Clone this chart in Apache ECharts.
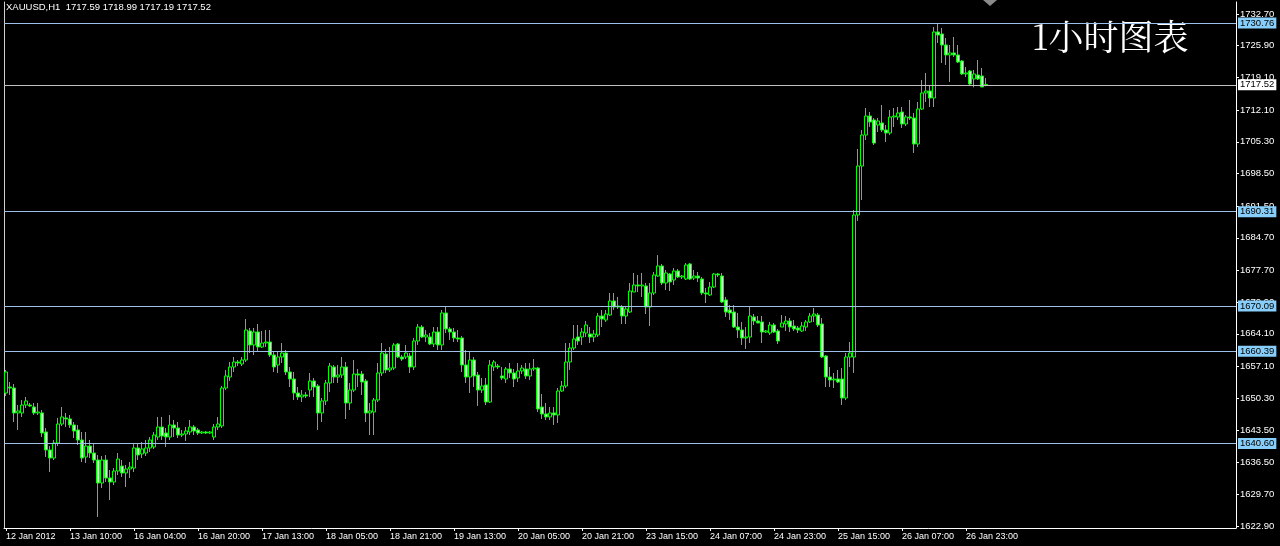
<!DOCTYPE html>
<html>
<head>
<meta charset="utf-8">
<script src="https://cdn.jsdelivr.net/npm/echarts@6/dist/echarts.min.js"></script>
<style>
html,body{margin:0;padding:0;background:#000;}
#chart{width:1280px;height:546px;}
</style>
</head>
<body>
<div id="chart"></div>
<script>
// ---- tick labels ----
const timeLabels = ['12 Jan 2012','13 Jan 10:00','16 Jan 04:00','16 Jan 20:00','17 Jan 13:00','18 Jan 05:00',
  '18 Jan 21:00','19 Jan 13:00','20 Jan 05:00','20 Jan 21:00','23 Jan 15:00','24 Jan 07:00',
  '24 Jan 23:00','25 Jan 15:00','26 Jan 07:00','26 Jan 23:00'];
const yTickLabels = ['1732.70','1725.90','1719.10','1712.10','1705.30','1698.50','1691.50','1684.70',
  '1677.70','1670.90','1664.10','1657.10','1650.30','1643.50','1636.50','1629.70','1622.90'];

// ---- XAUUSD H1 candles (open, close, low, high) ----
const opens = [
1651.42,1652.71,1652.49,1647.14,1647.14,1648.85,1648.85,1648.42,1647.14,1647.14,
1643.06,1639.20,1637.48,1640.70,1644.77,1646.07,1645.85,1644.56,1643.49,1641.34,
1637.70,1640.05,1638.55,1637.05,1632.12,1637.05,1633.19,1632.33,1634.69,1635.76,
1634.26,1635.12,1635.33,1639.63,1638.34,1638.55,1639.63,1639.84,1641.98,1644.13,
1642.84,1641.98,1644.56,1643.92,1642.41,1642.63,1643.06,1644.13,1643.49,1642.84,
1643.06,1642.84,1641.98,1644.13,1644.35,1652.49,1654.85,1657.00,1658.07,1657.64,
1658.50,1664.72,1661.72,1664.50,1661.29,1662.14,1662.36,1659.57,1657.43,1659.14,
1660.00,1655.93,1654.42,1651.42,1650.57,1651.00,1652.07,1654.00,1652.92,1647.14,
1649.71,1653.57,1657.00,1654.85,1655.28,1657.00,1649.28,1652.07,1655.50,1655.50,
1654.00,1647.14,1647.35,1649.92,1655.71,1659.78,1656.36,1656.78,1661.93,1659.14,
1659.14,1659.36,1657.00,1662.57,1665.57,1663.43,1663.43,1661.93,1664.50,1661.72,
1668.58,1665.15,1664.50,1663.22,1663.22,1657.43,1654.85,1658.50,1655.28,1652.07,
1653.14,1649.49,1657.00,1657.21,1655.07,1654.42,1656.57,1655.71,1654.64,1656.14,
1656.57,1655.07,1656.57,1656.78,1648.42,1646.92,1646.28,1647.14,1646.71,1651.85,
1652.92,1658.07,1661.07,1663.43,1663.43,1664.29,1664.07,1663.43,1663.86,1667.93,
1667.08,1668.15,1671.15,1669.86,1669.86,1667.93,1668.79,1673.08,1674.58,1674.37,
1674.37,1669.86,1672.87,1676.51,1678.66,1675.01,1676.94,1675.65,1677.59,1676.30,
1675.87,1679.09,1676.08,1676.51,1675.87,1672.87,1672.44,1674.15,1676.94,1676.51,
1671.37,1669.22,1668.79,1665.57,1664.93,1663.22,1663.43,1667.72,1666.86,1666.65,
1664.50,1664.29,1666.00,1664.72,1665.57,1666.22,1666.86,1665.79,1665.36,1664.72,
1665.57,1666.65,1667.93,1668.15,1666.22,1659.36,1654.85,1654.21,1654.42,1654.42,
1650.35,1659.14,1659.14,1689.59,1700.10,1706.75,1710.82,1709.97,1708.89,1709.32,
1707.82,1707.18,1710.61,1710.61,1711.68,1709.11,1710.61,1710.39,1704.82,1712.32,
1715.76,1716.19,1714.68,1728.84,1728.41,1726.05,1723.91,1724.34,1723.91,1722.62,
1719.83,1720.47,1718.76,1719.62,1719.40,1717.59];
const closes = [
1655.93,1652.49,1647.14,1647.57,1648.85,1649.71,1648.64,1647.14,1647.35,1642.84,
1639.20,1637.48,1640.70,1644.77,1646.28,1645.85,1644.56,1643.27,1641.34,1637.48,
1640.05,1638.55,1637.05,1632.12,1637.05,1633.19,1632.33,1634.69,1637.27,1634.26,
1635.12,1635.55,1639.63,1638.13,1639.41,1639.63,1641.34,1642.41,1644.13,1642.20,
1641.98,1644.56,1643.92,1642.41,1642.63,1643.27,1644.13,1643.27,1642.84,1643.06,
1642.84,1643.06,1644.13,1644.77,1652.49,1655.07,1657.00,1658.07,1657.86,1658.50,
1664.93,1661.72,1664.50,1661.29,1662.14,1662.36,1659.57,1657.00,1659.14,1660.00,
1655.93,1654.42,1651.42,1650.57,1651.00,1650.78,1654.00,1652.71,1647.14,1649.71,
1653.57,1657.21,1654.85,1655.28,1657.00,1649.28,1652.07,1655.50,1655.28,1653.78,
1647.14,1647.57,1649.92,1655.71,1660.00,1656.36,1656.78,1661.72,1659.14,1658.71,
1660.00,1657.00,1662.57,1665.57,1663.43,1663.86,1661.93,1664.50,1661.72,1668.58,
1665.15,1664.50,1663.22,1663.00,1657.43,1654.85,1658.50,1655.07,1652.07,1652.92,
1649.49,1657.43,1658.07,1657.00,1654.64,1656.57,1655.71,1654.42,1656.14,1656.78,
1655.07,1656.57,1656.78,1648.00,1646.92,1646.28,1647.14,1646.71,1651.85,1652.92,
1658.07,1661.07,1663.00,1662.57,1664.50,1666.00,1663.43,1664.07,1667.93,1667.29,
1668.36,1671.15,1669.86,1670.08,1667.93,1669.43,1673.29,1674.58,1674.37,1674.58,
1669.86,1672.87,1676.73,1678.66,1675.01,1677.16,1675.23,1677.59,1676.30,1676.51,
1678.87,1675.87,1676.51,1676.08,1672.87,1672.65,1674.15,1676.94,1676.73,1670.94,
1668.79,1668.58,1665.57,1664.93,1663.22,1663.43,1667.93,1666.86,1666.43,1664.50,
1664.72,1666.00,1664.50,1662.57,1666.43,1666.86,1665.57,1665.15,1664.93,1665.79,
1666.65,1667.93,1668.36,1666.00,1659.14,1654.85,1654.21,1654.42,1653.78,1650.35,
1659.14,1660.00,1689.59,1700.10,1706.75,1710.82,1709.54,1705.03,1709.75,1707.82,
1707.18,1710.61,1710.82,1711.47,1709.11,1710.61,1710.39,1704.82,1712.32,1715.76,
1716.19,1714.68,1728.84,1728.19,1726.05,1723.91,1724.34,1723.91,1722.40,1719.83,
1720.05,1717.69,1719.83,1718.76,1717.04,1717.52];
const lows = [
1650.78,1651.00,1645.20,1643.49,1646.28,1648.21,1648.42,1646.71,1646.71,1641.98,
1637.70,1634.48,1637.05,1640.05,1644.35,1644.13,1643.92,1641.77,1640.27,1636.62,
1636.41,1637.48,1636.41,1624.83,1631.05,1632.33,1628.48,1631.69,1633.83,1633.40,
1631.26,1633.19,1634.48,1637.05,1637.48,1637.91,1638.77,1639.41,1641.34,1641.34,
1639.84,1641.34,1641.98,1641.77,1641.98,1641.13,1642.41,1642.41,1642.41,1642.63,
1642.63,1642.63,1641.34,1643.49,1643.92,1652.07,1654.00,1655.93,1657.21,1657.21,
1658.07,1660.00,1659.57,1660.21,1661.07,1661.29,1659.14,1655.93,1655.71,1657.86,
1655.28,1652.71,1649.92,1649.92,1649.49,1650.35,1650.57,1650.57,1643.49,1645.20,
1648.85,1651.64,1653.57,1653.57,1654.64,1645.85,1647.78,1651.64,1652.71,1651.00,
1645.20,1642.41,1642.41,1649.49,1655.07,1655.71,1655.93,1656.36,1658.93,1658.29,
1658.71,1655.71,1656.36,1661.72,1663.22,1662.36,1661.72,1661.29,1660.64,1660.64,
1664.29,1662.79,1662.36,1662.36,1655.93,1653.57,1651.42,1652.71,1648.64,1651.42,
1648.85,1649.28,1656.14,1656.57,1654.21,1653.57,1654.64,1652.71,1653.78,1655.50,
1654.42,1654.21,1656.14,1647.35,1645.85,1645.63,1645.63,1644.56,1644.99,1651.64,
1652.49,1656.36,1660.64,1661.72,1661.72,1663.43,1662.14,1662.36,1663.43,1665.57,
1666.65,1667.93,1669.22,1669.43,1666.22,1666.22,1668.58,1673.08,1673.08,1672.01,
1668.36,1665.79,1672.44,1676.30,1674.58,1673.51,1673.29,1674.58,1676.08,1675.87,
1675.65,1675.65,1675.65,1675.23,1672.44,1670.72,1672.22,1673.94,1676.30,1670.72,
1667.72,1667.08,1665.36,1663.22,1661.72,1660.86,1662.14,1666.00,1666.43,1662.14,
1664.29,1663.86,1664.29,1661.93,1665.57,1664.72,1664.50,1664.72,1664.29,1664.50,
1664.72,1666.43,1666.65,1665.57,1658.93,1652.71,1652.71,1652.49,1653.57,1648.85,
1649.92,1657.00,1655.71,1688.31,1692.81,1705.68,1708.47,1704.60,1707.39,1707.39,
1705.25,1706.75,1708.47,1709.97,1708.25,1708.68,1709.97,1702.89,1704.18,1712.11,
1713.83,1712.75,1712.75,1726.48,1722.19,1721.76,1718.12,1723.48,1722.19,1719.62,
1719.19,1717.47,1716.97,1718.54,1717.04,1717.19];
const highs = [
1656.36,1653.78,1653.35,1648.85,1649.92,1650.57,1649.28,1649.28,1649.28,1647.78,
1643.92,1640.05,1641.34,1646.07,1648.42,1647.14,1646.71,1645.20,1644.56,1643.06,
1643.06,1641.34,1640.70,1638.13,1637.91,1638.13,1634.91,1635.33,1638.55,1637.05,
1635.98,1636.62,1640.48,1640.48,1640.91,1641.34,1641.98,1643.06,1646.28,1646.28,
1643.92,1646.71,1645.63,1645.20,1643.49,1644.13,1645.63,1644.56,1643.92,1643.27,
1643.27,1643.27,1644.77,1646.28,1652.92,1656.36,1658.07,1659.14,1658.50,1659.14,
1667.29,1665.36,1665.36,1666.22,1664.72,1664.93,1664.93,1660.21,1660.21,1662.14,
1660.64,1657.00,1655.93,1652.71,1652.07,1651.64,1655.71,1654.64,1653.35,1650.35,
1654.21,1657.86,1657.43,1657.43,1659.14,1658.07,1653.57,1658.50,1656.57,1656.14,
1654.42,1649.28,1650.35,1657.86,1662.14,1660.86,1661.29,1662.14,1662.14,1659.57,
1661.72,1660.00,1663.22,1666.22,1666.00,1664.93,1664.29,1665.57,1665.57,1669.22,
1669.86,1665.57,1665.36,1664.93,1663.65,1660.64,1660.21,1659.14,1655.93,1654.64,
1654.64,1658.50,1658.50,1657.64,1657.00,1657.00,1657.86,1656.57,1657.86,1657.43,
1657.86,1657.86,1658.71,1657.00,1651.21,1649.28,1648.42,1648.42,1652.49,1654.00,
1662.14,1662.14,1666.00,1666.00,1665.36,1666.86,1665.57,1664.93,1668.58,1669.22,
1669.22,1672.87,1672.87,1672.01,1670.29,1669.86,1675.01,1677.16,1676.73,1677.16,
1675.01,1675.01,1677.37,1681.00,1679.09,1677.80,1677.16,1678.23,1678.02,1676.73,
1679.30,1679.30,1677.80,1677.37,1676.30,1673.94,1675.23,1677.16,1677.16,1677.16,
1672.01,1670.29,1670.29,1668.58,1666.65,1665.57,1669.86,1668.36,1667.93,1667.93,
1664.93,1666.65,1666.43,1665.15,1668.15,1667.93,1667.50,1667.08,1665.79,1666.65,
1667.08,1668.58,1669.65,1668.58,1667.50,1659.57,1657.00,1655.71,1656.36,1656.78,
1660.00,1662.36,1690.67,1703.75,1707.82,1712.54,1711.68,1710.39,1710.39,1713.18,
1708.89,1712.11,1712.54,1712.75,1712.75,1711.04,1714.26,1711.47,1713.83,1718.54,
1720.05,1717.26,1729.91,1730.76,1729.70,1727.55,1726.05,1727.77,1726.05,1722.83,
1721.33,1720.69,1720.69,1722.83,1721.12,1718.99];

// ---- horizontal price levels ----
const levelLines = [1730.76, 1690.31, 1670.09, 1660.39, 1640.60];
const bidPrice = 1717.52;
const headerText = 'XAUUSD,H1  1717.59 1718.99 1717.19 1717.52';
const titleText = '1小时图表';

// ---- build chart ----
const SLOTS = 308;          // hourly slots visible across the chart window
const BARS_PER_LABEL = 16;
const slots = [];
for (let i = 0; i < SLOTS; i++) slots.push(String(i));
const candles = opens.map((o, i) => [o, closes[i], lows[i], highs[i]]);
const yTickValues = yTickLabels.map(Number);
const yMin = 1622.47, yMax = 1735.27;
const FONT = '"Liberation Sans", Arial, sans-serif';
const isLabelSlot = i => i % BARS_PER_LABEL === 0 && (i / BARS_PER_LABEL) < timeLabels.length;

const chart = echarts.init(document.getElementById('chart'), null, {renderer: 'canvas'});
chart.setOption({
  backgroundColor: '#000',
  animation: false,
  grid: {left: 4, right: 44, top: 2, bottom: 18, containLabel: false},
  xAxis: {
    type: 'category', data: slots, boundaryGap: true,
    axisLine: {show: true, lineStyle: {color: '#fff', width: 1}},
    axisTick: {show: true, interval: isLabelSlot, alignWithLabel: true, length: 3, lineStyle: {color: '#fff'}},
    axisLabel: {
      interval: isLabelSlot, color: '#fff', fontSize: 9, fontFamily: FONT,
      align: 'left', margin: 4,
      formatter: (v, i) => timeLabels[i / BARS_PER_LABEL] || ''
    },
    splitLine: {show: false}
  },
  yAxis: [{
    type: 'value', position: 'right', min: yMin, max: yMax,
    splitLine: {show: false},
    axisLine: {show: true, lineStyle: {color: '#fff', width: 1}},
    axisTick: {show: true, customValues: yTickValues, length: 3, lineStyle: {color: '#fff'}},
    axisLabel: {customValues: yTickValues, color: '#fff', fontSize: 9.5, fontFamily: FONT, margin: 4,
      formatter: v => v.toFixed(2)}
  }, {
    type: 'value', position: 'left', min: yMin, max: yMax,
    splitLine: {show: false},
    axisLine: {show: true, lineStyle: {color: '#d0d0d0', width: 1}},
    axisTick: {show: false}, axisLabel: {show: false}
  }],
  series: [{
    type: 'candlestick', xAxisIndex: 0, yAxisIndex: 0,
    barWidth: 3,
    data: candles,
    itemStyle: {color: '#000000', color0: '#c8ffc8', borderColor: '#00ff00', borderColor0: '#00ff00', borderWidth: 1},
    markLine: {
      silent: true, symbol: ['none', 'none'], animation: false,
      lineStyle: {color: '#9cc0e8', width: 1, type: 'solid'},
      label: {show: true, position: 'end', distance: 2, color: '#000', backgroundColor: '#87cefa',
        fontSize: 9.5, fontFamily: FONT, padding: [1, 2, 0, 2],
        formatter: p => Number(p.value).toFixed(2)},
      emphasis: {disabled: true},
      data: levelLines.map(v => ({yAxis: v})).concat([{
        yAxis: bidPrice, lineStyle: {color: '#c0c0c0'},
        label: {backgroundColor: '#ffffff', color: '#000'}
      }])
    }
  }],
  graphic: [
    {type: 'text', left: 6, top: 2, silent: true,
      style: {text: headerText, fill: '#fff', font: '9.5px ' + FONT}},
    {type: 'text', left: 1032, top: 19, silent: true,
      style: {text: titleText, fill: '#fff', font: '35px "Noto Serif CJK SC", "Noto Sans CJK SC", serif'}},
    {type: 'polygon', silent: true, shape: {points: [[983, 0], [997, 0], [990, 6]]}, style: {fill: '#8a8a8a'}}
  ]
});
</script>
</body>
</html>
